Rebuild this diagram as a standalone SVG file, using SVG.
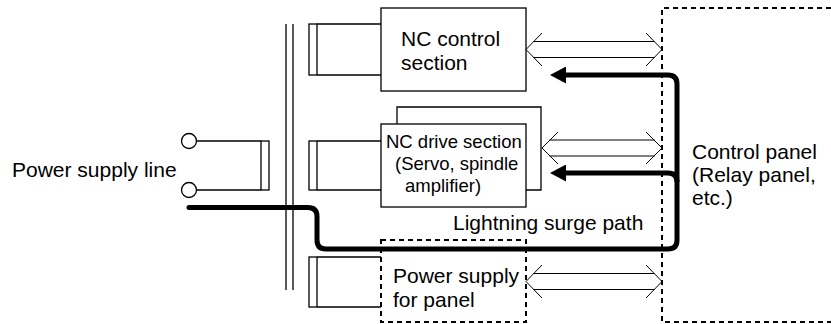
<svg xmlns="http://www.w3.org/2000/svg" width="831" height="324" viewBox="0 0 831 324">
<style>
text{font-family:"Liberation Sans",Arial,sans-serif;font-size:21px;fill:#000}
.drv{font-size:18.5px}
.ln{fill:none;stroke:#000;stroke-width:1.3}
.thin{fill:none;stroke:#000;stroke-width:1}
.dash{fill:none;stroke:#000;stroke-width:2;stroke-dasharray:5,4}
.surge{fill:none;stroke:#000;stroke-width:5;stroke-linejoin:round}
</style>
<defs>
<marker id="ah" viewBox="0 0 16 17" refX="1" refY="8.5" markerWidth="16" markerHeight="17" markerUnits="userSpaceOnUse" orient="auto">
<path d="M0,0 L16,8.5 L0,17 Z" fill="#000"/>
</marker>
</defs>
<rect width="831" height="324" fill="#fff"/>

<g id="power-supply-line">
<circle class="ln" cx="189" cy="141" r="7.5"/>
<circle class="ln" cx="189" cy="190" r="7.5"/>
<path class="ln" d="M196.5,141 H261 M196.5,190 H261"/>
<rect class="ln" x="261" y="141" width="8" height="49"/>
<text x="12" y="177">Power supply line</text>
</g>

<g id="bus">
<path class="ln" d="M286,24 V290 M293,24 V290"/>
</g>

<g id="nc-control">
<rect class="ln" x="309" y="24" width="8" height="51"/>
<path class="ln" d="M317,24 H381 M317,75 H381"/>
<rect class="ln" x="381" y="8" width="145" height="83" fill="#fff"/>
<text x="401" y="46">NC control</text>
<text x="401" y="70">section</text>
</g>

<g id="nc-drive">
<rect class="ln" x="309" y="141" width="8" height="49"/>
<path class="ln" d="M317,141 H381 M317,190 H381"/>
<path class="ln" d="M397,124 V107 H541 V190 H526"/>
<rect class="ln" x="381" y="124" width="145" height="83" fill="#fff"/>
<text class="drv" x="386" y="148">NC drive section</text>
<text class="drv" x="395" y="170">(Servo, spindle</text>
<text class="drv" x="405" y="192">amplifier)</text>
</g>

<g id="power-supply-panel">
<rect class="ln" x="309" y="257" width="8" height="50"/>
<path class="ln" d="M317,257 H381 M317,307 H381"/>
<rect class="dash" x="381" y="240" width="145" height="82"/>
<text x="393" y="283">Power supply</text>
<text x="393" y="307">for panel</text>
</g>

<g id="control-panel">
<path class="dash" d="M831,8 H662 V322 H831"/>
<text x="692" y="159">Control panel</text>
<text x="692" y="182">(Relay panel,</text>
<text x="692" y="205">etc.)</text>
</g>

<g id="connectors">
<g id="bus-arrow-1">
<path class="thin" d="M533.5,41.5 H654.5 M533.5,57.5 H654.5"/>
<path class="thin" d="M542,33 L526,49.5 L542,66 M646,33 L662,49.5 L646,66"/>
</g>
<g id="bus-arrow-2">
<path class="thin" d="M549.5,140 H654.5 M549.5,156 H654.5"/>
<path class="thin" d="M558,132 L542,148 L558,164 M646,132 L662,148 L646,164"/>
</g>
<g id="bus-arrow-3">
<path class="thin" d="M533.5,273.5 H654.5 M533.5,289.5 H654.5"/>
<path class="thin" d="M542,265 L526,281.5 L542,298 M646,265 L662,281.5 L646,298"/>
</g>
<g id="surge-path">
<path class="surge" stroke-linecap="round" d="M189,207.5 H308 Q317,207.5 317,216.5 V240 Q317,249 326,249 H668 Q677,249 677,240 V84 Q677,75 668,75 H565" marker-end="url(#ah)"/>
<path class="surge" d="M677,182 Q677,173 668,173 H565" marker-end="url(#ah)"/>
<text x="453" y="230">Lightning surge path</text>
</g>
</g>
</svg>
